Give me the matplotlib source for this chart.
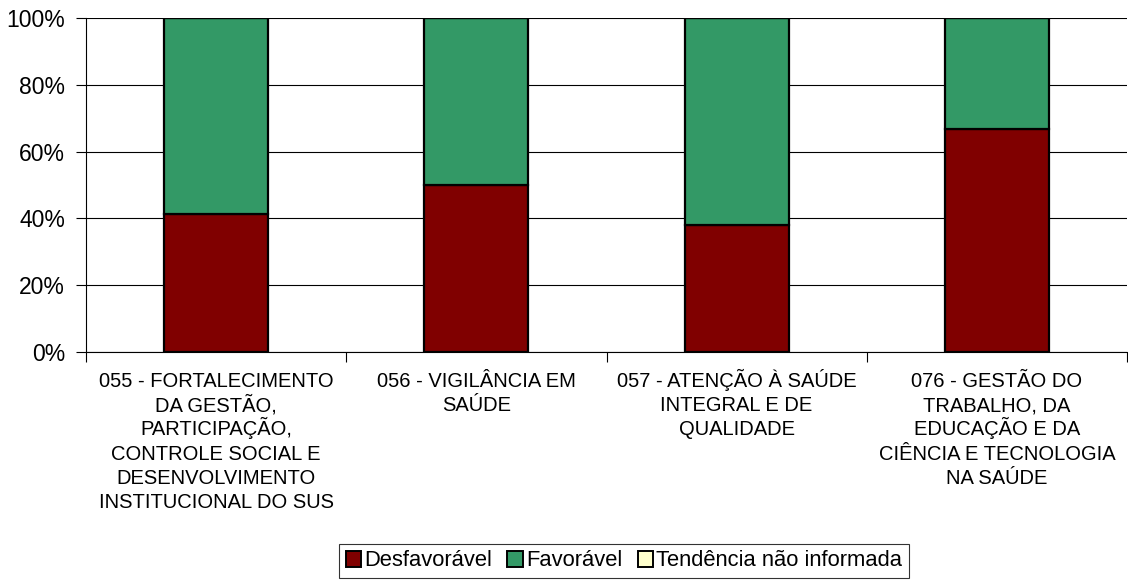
import matplotlib
matplotlib.use("Agg")
import matplotlib.pyplot as plt
import numpy as np
from matplotlib.patches import Patch

categories = [
    "055 - FORTALECIMENTO\nDA GESTÃO,\nPARTICIPAÇÃO,\nCONTROLE SOCIAL E\nDESENVOLVIMENTO\nINSTITUCIONAL DO SUS",
    "056 - VIGILÂNCIA EM\nSAÚDE",
    "057 - ATENÇÃO À SAÚDE\nINTEGRAL E DE\nQUALIDADE",
    "076 - GESTÃO DO\nTRABALHO, DA\nEDUCAÇÃO E DA\nCIÊNCIA E TECNOLOGIA\nNA SAÚDE",
]
desfavoravel = [41.2, 50.0, 38.1, 66.7]
favoravel = [58.8, 50.0, 61.9, 33.3]
nao_informada = [0.0, 0.0, 0.0, 0.0]

series_names = ["Desfavorável", "Favorável", "Tendência não informada"]
colors = ["#800000", "#339966", "#FFFFCC"]

plt.rcParams["font.family"] = ["Liberation Sans", "DejaVu Sans"]

fig = plt.figure(figsize=(11.28, 5.81), dpi=100)
ax = fig.add_axes([86 / 1128, 1 - 352 / 581, (1127 - 86) / 1128, (352 - 18) / 581])

x = np.arange(len(categories))
width = 0.4
bottom = np.zeros(len(categories))
for vals, col in zip([desfavoravel, favoravel, nao_informada], colors):
    ax.bar(x, vals, width, bottom=bottom, color=col, edgecolor="black",
           linewidth=1.6, zorder=3)
    bottom += np.array(vals)

ax.set_xlim(-0.5, len(categories) - 0.5)
ax.set_ylim(0, 100)
ax.set_yticks(np.arange(0, 101, 20))
ax.set_yticklabels([f"{v}%" for v in range(0, 101, 20)], fontsize=16.5)
ax.yaxis.grid(True, color="black", linewidth=0.8, zorder=0)
ax.tick_params(axis="y", length=7, width=0.8, pad=8)

# category labels: one text per line so every line gets the same spacing
ax.set_xticks([])
ax.set_xticks(np.arange(-0.5, len(categories)), minor=True)
ax.tick_params(axis="x", which="minor", length=7, width=0.8)
first_offset = 25.3   # points below the axis to the first baseline
line_step = 17.4      # points between baselines
for xi, label in zip(x, categories):
    for k, line in enumerate(label.split("\n")):
        ax.annotate(line, xy=(xi, 0), xycoords=("data", "axes fraction"),
                    xytext=(0, -(first_offset + k * line_step)), textcoords="offset points",
                    ha="center", va="baseline", fontsize=14.5, annotation_clip=False)

for s in ["top", "right"]:
    ax.spines[s].set_visible(False)
for s in ["left", "bottom"]:
    ax.spines[s].set_linewidth(0.8)

handles = [Patch(facecolor=c, edgecolor="black", linewidth=1.4) for c in colors]
leg = fig.legend(handles, series_names, loc="center", bbox_to_anchor=(624 / 1128, 1 - 561 / 581),
                 ncol=3, fontsize=15.8, frameon=True, fancybox=False, edgecolor="black",
                 handlelength=0.7, handleheight=0.7, handletextpad=0.15, columnspacing=0.7,
                 borderpad=0.3, borderaxespad=0)
leg.get_frame().set_linewidth(0.8)

fig.savefig("out.png", dpi=100)
